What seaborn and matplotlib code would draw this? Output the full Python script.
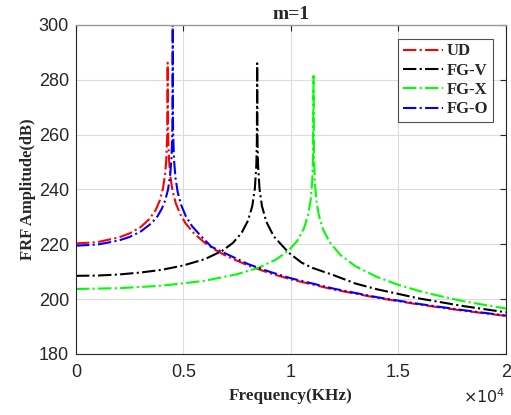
import numpy as np
import pandas as pd
import seaborn as sns
import matplotlib
matplotlib.use("Agg")
import matplotlib.pyplot as plt

# ---- data (frequency in Hz, amplitude in dB) ----
ud_f = [0, 1000, 2000, 2500, 3000, 3400, 3700, 3900, 4050, 4150, 4200, 4240, 4255, 4265,
        4275, 4290, 4330, 4400, 4500, 4650, 4850, 5100, 5500, 6000, 6500, 7000, 8000,
        9000, 10000, 12000, 14000, 16000, 18000, 20000]
ud_db = [220.3, 220.8, 222.5, 224.0, 226.2, 229.1, 232.4, 236.0, 240.5, 245.8, 250.7, 258.9,
         266.9, 286.2, 266.9, 258.9, 250.6, 244.1, 239.2, 234.8, 231.0, 227.6, 223.9, 220.5,
         217.9, 215.7, 212.3, 209.5, 207.2, 203.5, 200.5, 198.0, 195.8, 193.9]

fgv_f = [0, 1000, 2000, 3000, 4000, 5000, 6000, 6800, 7300, 7700, 8000, 8200, 8320, 8390,
         8415, 8430, 8445, 8470, 8540, 8650, 8850, 9200, 9900, 10500, 11000, 12000, 13000,
         14000, 16000, 18000, 20000]
fgv_db = [208.5, 208.6, 209.0, 209.7, 210.7, 212.3, 214.6, 217.6, 220.5, 224.1, 228.6, 233.9,
          240.2, 248.9, 257.5, 286.0, 257.5, 248.9, 240.1, 234.0, 228.3, 222.9, 216.9, 213.3,
          211.4, 208.7, 205.7, 203.6, 200.2, 197.5, 195.2]

fgx_f = [0, 2000, 4000, 6000, 7500, 8500, 9300, 9900, 10300, 10600, 10800, 10920, 10990,
         11030, 11050, 11070, 11110, 11180, 11300, 11500, 11800, 12300, 13000, 14000, 15000,
         16000, 17000, 18000, 19000, 20000]
fgx_db = [203.7, 204.0, 204.9, 206.7, 209.1, 211.5, 214.4, 217.8, 221.3, 225.7, 230.7, 236.3,
          243.0, 252.5, 281.4, 252.5, 242.9, 236.2, 230.5, 225.3, 220.8, 216.1, 212.0, 208.1,
          205.2, 202.9, 201.0, 199.3, 197.9, 196.6]

fgo_f = [0, 1000, 2000, 2500, 3000, 3500, 3800, 4000, 4150, 4280, 4380, 4440, 4480, 4492,
         4500, 4508, 4520, 4560, 4630, 4730, 4880, 5100, 5400, 5800, 6300, 7000, 8000, 9000,
         10000, 12000, 14000, 16000, 18000, 20000]
fgo_db = [219.5, 219.9, 221.4, 222.7, 224.6, 227.6, 230.3, 233.1, 236.0, 239.9, 245.1, 251.0,
          260.5, 268.5, 300.0, 268.5, 260.5, 250.9, 244.1, 239.1, 234.6, 230.4, 226.6, 223.1,
          219.1, 216.5, 212.8, 210.0, 207.6, 203.8, 200.7, 198.2, 196.0, 194.0]

series_names = ["UD", "FG-V", "FG-X", "FG-O"]
series_colors = ["#ff0000", "#000000", "#00ff00", "#0000ff"]
x_ticks = [0, 5000, 10000, 15000, 20000]
x_tick_labels = ["0", "0.5", "1", "1.5", "2"]
y_ticks = [180, 200, 220, 240, 260, 280, 300]

data = {"UD": (ud_f, ud_db), "FG-V": (fgv_f, fgv_db),
        "FG-X": (fgx_f, fgx_db), "FG-O": (fgo_f, fgo_db)}
df = pd.concat([pd.DataFrame({"f": f, "db": d, "s": name})
                for name, (f, d) in data.items()], ignore_index=True)

sns.set_theme(style="white")
plt.rcParams["font.family"] = ["Liberation Sans", "DejaVu Sans"]

fig = plt.figure(figsize=(5.11, 4.15), dpi=100)
ax = fig.add_axes([0.1487, 0.147, 0.8413, 0.793])

for name, color in zip(series_names, series_colors):
    sub = df[df["s"] == name]
    sns.lineplot(data=sub, x="f", y="db", ax=ax, color=color, linestyle="-.",
                 linewidth=1.5, estimator=None, sort=False, label=name)

ax.set_xlim(0, 20000)
ax.set_ylim(180, 300)
ax.set_xticks(x_ticks)
ax.set_xticklabels(x_tick_labels)
ax.set_yticks(y_ticks)
ax.grid(True, color="#dcdcdc", linewidth=0.8)
ax.set_axisbelow(True)
ax.tick_params(direction="in", length=4, width=0.8, colors="#262626",
               labelsize=13, top=True, right=True)
ax.tick_params(axis="x", pad=7)
ax.tick_params(axis="y", pad=5)
for side in ["left", "bottom", "right"]:
    ax.spines[side].set_color("#262626")
    ax.spines[side].set_linewidth(0.8)
ax.spines["top"].set_color("#999999")
ax.spines["top"].set_linewidth(1.0)

serif = ["Liberation Serif", "DejaVu Serif"]
ax.set_xlabel("Frequency(KHz)", family=serif, fontweight="bold", fontsize=12.3, labelpad=5)
ax.set_ylabel("FRF Amplitude(dB)", family=serif, fontweight="bold", fontsize=12, labelpad=2)
ax.set_title("m=1", family=serif, fontweight="bold", fontsize=14, pad=4)
fig.text(0.99, 0.0434, r"$\times10^{4}$", ha="right", va="center", fontsize=11.5, color="#262626")

leg = ax.legend(loc="upper right", bbox_to_anchor=(0.969, 0.9565), borderaxespad=0,
                frameon=True, fancybox=False, edgecolor="#262626", handlelength=2.4,
                handletextpad=0.25, labelspacing=0.2, borderpad=0.25,
                prop={"family": serif, "weight": "bold", "size": 12})
leg.get_frame().set_linewidth(0.8)

fig.savefig("out.png", dpi=100)
